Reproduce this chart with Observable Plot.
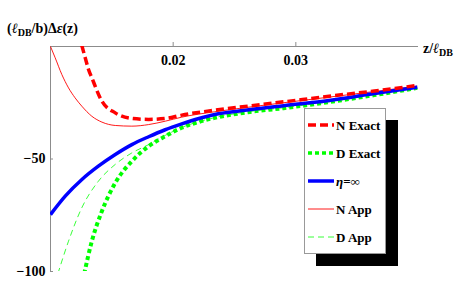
<!DOCTYPE html>
<html>
<head>
<meta charset="utf-8">
<script src="https://cdn.jsdelivr.net/npm/d3@7"></script>
<script src="https://cdn.jsdelivr.net/npm/@observablehq/plot@0.6"></script>
<style>
  body { margin: 0; background: #fff; }
  #wrap { position: relative; width: 464px; height: 289px; overflow: hidden; font-family: "Liberation Serif", "Times New Roman", serif; font-weight: bold; }
  #wrap svg { position: absolute; left: 0; top: 0; }
  .lbl { position: absolute; font-size: 14px; line-height: 1; white-space: nowrap; color: #000; }
  .lbl sub { font-size: 10px; vertical-align: -3px; line-height: 0; }
  #legend { position: absolute; left: 304px; top: 108px; width: 80px; height: 144px; border: 1px solid #999; background: #fff; box-shadow: 12px 12px 0 #000; }
  #legend svg { position: static; }
</style>
</head>
<body>
<div id="wrap"></div>
<script>
// ---- data ----
const xTicks = [0.02, 0.03];
const yTicks = [-50, -100];

const nExactX = [0.01255, 0.01283, 0.0131, 0.01337, 0.01419, 0.01528, 0.01663, 0.0180, 0.01935, 0.0207, 0.0234, 0.0261, 0.0290, 0.0327, 0.0364, 0.0399];
const nExactY = [0.5, -5, -10.2, -13.9, -24.3, -29.5, -32.0, -32.4, -32.0, -30.5, -28.3, -26.5, -24.6, -22.1, -19.8, -17.3];

const dExactX = [0.01275, 0.01337, 0.01419, 0.01528, 0.01663, 0.0180, 0.01935, 0.0207, 0.0221, 0.0234, 0.0261, 0.0290, 0.0327, 0.0364, 0.0399];
const dExactY = [-101, -86.5, -73.2, -60.6, -51.0, -44.3, -39.9, -36.1, -33.5, -31.7, -29.2, -27.4, -24.7, -21.6, -18.4];

const etaInfX = [0.0100, 0.0112, 0.01256, 0.0139, 0.01528, 0.01663, 0.0180, 0.01935, 0.0207, 0.0221, 0.0234, 0.0255, 0.0290, 0.0327, 0.0364, 0.0399];
const etaInfY = [-74.7, -66.5, -59.1, -53.2, -48.0, -43.6, -40.1, -37.0, -34.4, -32.0, -30.2, -28.6, -26.3, -24.0, -20.9, -18.1];

const nAppX = [0.0100, 0.01038, 0.01092, 0.01147, 0.0120, 0.01255, 0.01337, 0.01419, 0.01528, 0.01663, 0.0180, 0.01935, 0.0207, 0.0234, 0.0261, 0.0290, 0.0327, 0.0364, 0.0399];
const nAppY = [0, -5, -12.4, -18.4, -22.8, -26.5, -31.0, -33.6, -35.1, -35.4, -34.7, -33.2, -31.4, -29.0, -27.0, -25.0, -22.5, -20.0, -17.6];

const dAppX = [0.0106, 0.01147, 0.01255, 0.0139, 0.01528, 0.01663, 0.0180, 0.01935, 0.0207, 0.0234, 0.0261, 0.0290, 0.0327, 0.0364, 0.0399];
const dAppY = [-101, -86.5, -71.7, -59.9, -52.4, -47.3, -43.6, -39.5, -36.0, -31.6, -29.0, -27.2, -24.6, -21.4, -18.3];

const seriesNames = ["N Exact", "D Exact", "η=∞", "N App", "D App"];

// ---- build tables ----
const toRows = (xs, ys) => xs.map((x, i) => ({x, y: ys[i]}));
const nExact = toRows(nExactX, nExactY);
const dExact = toRows(dExactX, dExactY);
const etaInf = toRows(etaInfX, etaInfY);
const nApp = toRows(nAppX, nAppY);
const dApp = toRows(dAppX, dAppY);

const styles = {
  "N Exact": {stroke: "#ff0000", strokeWidth: 3.5, strokeDasharray: "8,4"},
  "D Exact": {stroke: "#00ff00", strokeWidth: 4, strokeDasharray: "4,3"},
  "η=∞": {stroke: "#0000ff", strokeWidth: 3.5, strokeDasharray: null},
  "N App": {stroke: "#ff0000", strokeWidth: 0.9, strokeDasharray: null},
  "D App": {stroke: "#22ff22", strokeWidth: 0.9, strokeDasharray: "6,4"}
};

const lineMark = (data, name) => Plot.line(data, {x: "x", y: "y", curve: "monotone-x", clip: true, strokeLinecap: "butt", strokeLinejoin: "round", ...styles[name]});

const chart = Plot.plot({
  width: 464,
  height: 289,
  marginLeft: 50,
  marginRight: 46,
  marginTop: 46,
  marginBottom: 18,
  x: {domain: [0.01, 0.04]},
  y: {domain: [-100, 0]},
  style: {fontFamily: "'Liberation Serif', 'Times New Roman', serif", fontWeight: "bold", fontSize: "14px", color: "#000", background: "transparent", overflow: "visible"},
  marks: [
    Plot.ruleY([0], {stroke: "#8c8c8c", strokeWidth: 1}),
    Plot.ruleX([0.01], {stroke: "#8c8c8c", strokeWidth: 1}),
    Plot.axisX(xTicks, {anchor: "top", tickSize: 5, tickPadding: -23, stroke: "#8c8c8c", fill: "#000", label: null, tickFormat: d3.format(".2f")}),
    Plot.axisY(yTicks, {anchor: "left", tickSize: 3, dx: 3, tickPadding: 5, stroke: "#8c8c8c", fill: "#000", label: null}),
    lineMark(dApp, "D App"),
    lineMark(nApp, "N App"),
    lineMark(dExact, "D Exact"),
    lineMark(etaInf, "η=∞"),
    lineMark(nExact, "N Exact")
  ]
});

const wrap = document.getElementById("wrap");
wrap.appendChild(chart);

// axis titles
const yLab = document.createElement("div");
yLab.className = "lbl";
yLab.style.left = "7px";
yLab.style.top = "22px";
yLab.innerHTML = "(<i>ℓ</i><sub>DB</sub>/b)Δ<i>ε</i>(z)";
wrap.appendChild(yLab);

const xLab = document.createElement("div");
xLab.className = "lbl";
xLab.style.left = "423px";
xLab.style.top = "42px";
xLab.innerHTML = "z/<i>ℓ</i><sub>DB</sub>";
wrap.appendChild(xLab);

// legend
const legend = document.createElement("div");
legend.id = "legend";
const ns = "http://www.w3.org/2000/svg";
const lsvg = document.createElementNS(ns, "svg");
lsvg.setAttribute("width", 80);
lsvg.setAttribute("height", 144);
seriesNames.forEach((name, i) => {
  const cy = 16 + i * 28;
  const s = styles[name];
  const ln = document.createElementNS(ns, "line");
  ln.setAttribute("x1", 3); ln.setAttribute("x2", 29);
  ln.setAttribute("y1", cy); ln.setAttribute("y2", cy);
  ln.setAttribute("stroke", s.stroke);
  ln.setAttribute("stroke-width", Math.min(s.strokeWidth, 3.5));
  ln.setAttribute("stroke-linecap", "butt");
  if (s.strokeDasharray) ln.setAttribute("stroke-dasharray", s.strokeDasharray);
  lsvg.appendChild(ln);
  const tx = document.createElementNS(ns, "text");
  tx.setAttribute("x", 31);
  tx.setAttribute("y", cy + 4.5);
  tx.setAttribute("font-size", 13);
  tx.setAttribute("font-weight", "bold");
  tx.setAttribute("font-family", "'Liberation Serif', 'Times New Roman', serif");
  if (name === "η=∞") {
    const t1 = document.createElementNS(ns, "tspan");
    t1.setAttribute("font-style", "italic");
    t1.textContent = "η";
    tx.appendChild(t1);
    tx.appendChild(document.createTextNode("=∞"));
  } else {
    tx.textContent = name;
  }
  lsvg.appendChild(tx);
});
legend.appendChild(lsvg);
wrap.appendChild(legend);
</script>
</body>
</html>
